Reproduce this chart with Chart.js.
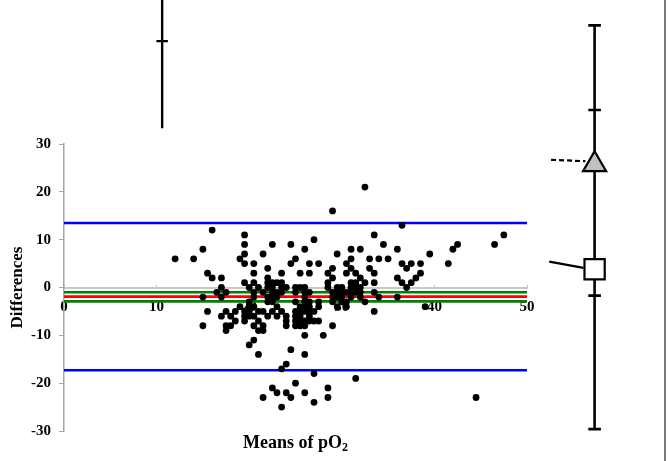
<!DOCTYPE html>
<html>
<head>
<meta charset="utf-8">
<script src="https://cdn.jsdelivr.net/npm/chart.js@4.4.1/dist/chart.umd.min.js"></script>
<style>
  html, body { margin: 0; padding: 0; background: #fff; }
  #wrap { width: 668px; height: 461px; position: relative; }
</style>
</head>
<body>
<div id="wrap"><canvas id="c" width="668" height="461"></canvas></div>
<script>
// Bland–Altman data: mean of the two pO2 readings (x) against their difference (y)
const meanPO2 = [
  12, 14, 15, 15, 15, 15.5, 15.5, 16, 16, 16.5,
  17, 17, 17, 17, 17.5, 17.5, 17.5, 17.5, 18, 18, 18.5, 18.5, 19, 19,
  19.5, 19.5, 19.5, 19.5, 19.5, 19.5, 19.5, 19.5,
  20, 20, 20, 20, 20, 20,
  20.5, 20.5, 20.5, 20.5, 20.5, 20.5, 20.5, 20.5, 20.5,
  21, 21, 21, 21, 21,
  21.5, 21.5, 21.5, 21.5, 21.5, 21.5,
  22, 22, 22, 22, 22, 22, 22,
  22.5, 22.5, 22.5, 22.5, 22.5, 22.5, 22.5, 22.5,
  23, 23, 23, 23, 23, 23,
  23.5, 23.5, 23.5, 23.5, 23.5, 23.5, 23.5,
  24, 24, 24, 24, 24, 24,
  24.5, 24.5, 24.5, 24.5,
  25, 25, 25, 25, 25, 25, 25, 25, 25,
  25.5, 25.5, 25.5, 25.5, 25.5, 25.5, 25.5,
  26, 26, 26, 26, 26, 26, 26, 26, 26, 26, 26, 26,
  26.5, 26.5, 26.5, 26.5, 26.5, 26.5, 26.5, 26.5,
  27, 27, 27, 27, 27,
  27.5, 27.5, 27.5, 27.5,
  28,
  28.5, 28.5, 28.5, 28.5, 28.5,
  29, 29, 29, 29, 29, 29, 29,
  29.5, 29.5, 29.5, 29.5, 29.5,
  30, 30, 30, 30,
  30.5, 30.5, 30.5, 30.5, 30.5,
  31, 31, 31, 31, 31, 31, 31,
  31.5, 31.5, 31.5, 31.5, 31.5,
  32, 32, 32, 32, 32,
  32.5, 32.5, 32.5,
  33, 33,
  33.5, 33.5, 33.5, 33.5, 33.5,
  34, 34, 34.5, 35,
  36, 36, 36, 36.5, 36.5, 36.5,
  37, 37, 37.5, 37.5, 38, 38.5, 38.5, 39, 39.5,
  41.5, 42, 42.5, 44.5, 46.5, 47.5
];
const diffPO2 = [
  6, 6, 8, -2, -8, 3, -5, 12, 2, -1,
  2, 0, -2, -6, -1, -5, -9, -8, -6, -8, -5, -7, 6, -4,
  11, 9, 7, 5, 1, -5, -6, -7,
  0, -3, -4, -5, -6, -12,
  5, 3, 1, -1, -2, -4, -6, -8, -11,
  0, -5, -7, -9, -14,
  7, -1, -5, -8, -9, -23,
  4, 2, 1, 0, -2, -3, -6,
  9, 1, 0, -1, -2, -3, -5, -21,
  1, -1, -2, -4, -6, -22,
  3, 1, 0, -1, -5, -17, -25,
  0, -6, -7, -8, -16, -22,
  9, 5, -13, -23,
  6, 0, -1, -3, -5, -6, -7, -8, -20,
  3, 0, -4, -5, -6, -7, -8,
  8, 0, -1, -2, -3, -4, -5, -7, -8, -10, -14, -22,
  5, 3, -1, -3, -4, -5, -6, -7,
  10, -5, -7, -18, -24,
  5, -3, -4, -7,
  -10,
  3, 1, 0, -21, -23,
  16, 4, 2, -1, -2, -3, -8,
  7, 0, -1, -2, -4,
  0, -1, -2, -3,
  5, 3, -1, -3, -4,
  8, 6, 4, 1, 0, -1, -2,
  3, 1, 0, -1, -19,
  8, 2, 0, -1, -2,
  21, 1, -3,
  6, 4,
  11, 3, 1, -1, -5,
  6, -2, 9, 6,
  8, 2, -2, 13, 5, 1,
  4, 0, 5, 1, 2, 5, 3, -4, 7,
  5, 8, 9, -23, 9, 11
];

// Mean difference, its confidence interval and the limits of agreement
const bias = -1.9;
const biasCI = [-1.0, -2.9];
const limitsOfAgreement = [13.5, -17.3];

// Axis ticks
const xTickValues = [0, 10, 20, 30, 40, 50];
const yTickValues = [-30, -20, -10, 0, 10, 20, 30];
const xRange = [0, 50];
const yRange = [-30, 30];

// Summary whisker to the right of the plot (same value scale)
const whiskerX = 57.3;
const whiskerEnds = [54.8, -29.6];
const whiskerTicks = [37.1, -1.7];
const triangleValue = 25.7;
const squareValue = 3.8;
const triangleLeader = { x: [52.6, 56.3], y: [26.7, 26.4] };
const squareLeader = { x: [52.4, 56.1], y: [5.4, 4.1] };

// Partial whisker above the plot
const upperWhiskerX = 10.6;
const upperWhiskerEnds = [61, 33.3];
const upperWhiskerTick = 51.5;

const SERIF = "'Liberation Serif', 'Times New Roman', serif";

const points = meanPO2.map((m, i) => ({ x: m, y: diffPO2[i] }));
const hLine = v => [{ x: xRange[0], y: v }, { x: xRange[1], y: v }];

// line pieces joined into one dataset, separated by gaps
function pieces(list) {
  const out = [];
  list.forEach((seg, i) => {
    if (i) out.push({ x: seg[0].x, y: null });
    seg.forEach(p => out.push(p));
  });
  return out;
}
function cap(x, y, half) {
  return [{ x: x - half, y }, { x: x + half, y }];
}

const capHalf = 0.68;
const rightWhisker = pieces([
  [{ x: whiskerX, y: whiskerEnds[0] }, { x: whiskerX, y: whiskerEnds[1] }],
  cap(whiskerX, whiskerEnds[0], capHalf),
  cap(whiskerX, whiskerEnds[1], capHalf),
  cap(whiskerX, whiskerTicks[0], capHalf),
  cap(whiskerX, whiskerTicks[1], capHalf)
]);
const topWhisker = pieces([
  [{ x: upperWhiskerX, y: upperWhiskerEnds[0] }, { x: upperWhiskerX, y: upperWhiskerEnds[1] }],
  cap(upperWhiskerX, upperWhiskerTick, 0.62)
]);

const lineDefaults = { showLine: true, pointRadius: 0, pointHoverRadius: 0, spanGaps: false, fill: false };

// Point elements outside the chart area are skipped by Chart.js,
// so markers flagged `outside` are drawn here at their scale positions.
const outsideMarkers = {
  id: 'outsideMarkers',
  afterDatasetsDraw(chart) {
    const ctx = chart.ctx;
    chart.data.datasets.forEach((ds, i) => {
      if (!ds.outside) return;
      chart.getDatasetMeta(i).data.forEach(el => {
        const o = el.options;
        ctx.save();
        ctx.fillStyle = o.backgroundColor;
        ctx.strokeStyle = o.borderColor;
        ctx.lineWidth = o.borderWidth;
        ctx.lineJoin = 'miter';
        if (Chart.helpers && Chart.helpers.drawPoint) {
          Chart.helpers.drawPoint(ctx, o, el.x, el.y);
        } else {
          ctx.beginPath();
          if (o.pointStyle === 'triangle') {
            const r = o.radius;
            ctx.moveTo(el.x, el.y - r);
            ctx.lineTo(el.x + r * Math.sin(2 * Math.PI / 3), el.y + r / 2);
            ctx.lineTo(el.x - r * Math.sin(2 * Math.PI / 3), el.y + r / 2);
            ctx.closePath();
          } else {
            const s = o.radius * Math.SQRT1_2;
            ctx.rect(el.x - s, el.y - s, 2 * s, 2 * s);
          }
          ctx.fill();
          ctx.stroke();
        }
        ctx.restore();
      });
    });
  }
};

// axis titles and the frame edge
const decorations = {
  id: 'decorations',
  afterDraw(chart) {
    const { ctx, chartArea: a } = chart;
    ctx.save();
    ctx.fillStyle = '#000';
    ctx.font = `bold 17px ${SERIF}`;
    // y title
    ctx.save();
    ctx.translate(a.left - 46, (a.top + a.bottom) / 2);
    ctx.rotate(-Math.PI / 2);
    ctx.textAlign = 'center';
    ctx.textBaseline = 'middle';
    ctx.fillText('Differences', 0, 0);
    ctx.restore();
    // x title with subscript
    const main = 'Means of pO';
    const sub = '2';
    ctx.font = `bold 18px ${SERIF}`;
    const wMain = ctx.measureText(main).width;
    ctx.font = `bold 12px ${SERIF}`;
    const wSub = ctx.measureText(sub).width;
    const x0 = (a.left + a.right) / 2 - (wMain + wSub) / 2;
    const base = a.bottom + 17;
    ctx.textAlign = 'left';
    ctx.textBaseline = 'alphabetic';
    ctx.font = `bold 18px ${SERIF}`;
    ctx.fillText(main, x0, base);
    ctx.font = `bold 12px ${SERIF}`;
    ctx.fillText(sub, x0 + wMain, base + 3);
    // frame edge on the right
    ctx.strokeStyle = '#7a7a7a';
    ctx.lineWidth = 2;
    ctx.beginPath();
    ctx.moveTo(chart.width - 3, 0);
    ctx.lineTo(chart.width - 3, chart.height);
    ctx.stroke();
    ctx.restore();
  }
};

new Chart(document.getElementById('c'), {
  type: 'scatter',
  data: {
    datasets: [
      { label: 'Differences', data: points, backgroundColor: '#000', borderWidth: 0,
        pointRadius: 3.4, pointHoverRadius: 3.4, order: 0 },
      { ...lineDefaults, label: 'Upper limit', data: hLine(limitsOfAgreement[0]), borderColor: '#0000ff', borderWidth: 2.6, order: 3 },
      { ...lineDefaults, label: 'Lower limit', data: hLine(limitsOfAgreement[1]), borderColor: '#0000ff', borderWidth: 2.6, order: 3 },
      { ...lineDefaults, label: 'CI upper', data: hLine(biasCI[0]), borderColor: '#008000', borderWidth: 2.6, order: 3 },
      { ...lineDefaults, label: 'CI lower', data: hLine(biasCI[1]), borderColor: '#008000', borderWidth: 2.6, order: 3 },
      { ...lineDefaults, label: 'Bias', data: hLine(bias), borderColor: '#ff0000', borderWidth: 2.6, order: 2 },
      { ...lineDefaults, label: 'Whisker', data: rightWhisker, borderColor: '#000', borderWidth: 2.6, clip: false, order: 2 },
      { ...lineDefaults, label: 'Upper whisker', data: topWhisker, borderColor: '#000', borderWidth: 2.4, clip: false, order: 2 },
      { ...lineDefaults, label: 'Triangle leader',
        data: triangleLeader.x.map((x, i) => ({ x, y: triangleLeader.y[i] })),
        borderColor: '#000', borderWidth: 2.2, borderDash: [5, 3], clip: false, order: 2 },
      { ...lineDefaults, label: 'Square leader',
        data: squareLeader.x.map((x, i) => ({ x, y: squareLeader.y[i] })),
        borderColor: '#000', borderWidth: 2.2, clip: false, order: 2 },
      { label: 'Triangle', outside: true, data: [{ x: whiskerX, y: triangleValue }], pointStyle: 'triangle',
        pointRadius: 13.3, pointHoverRadius: 13.3, backgroundColor: '#c0c0c0', borderColor: '#000',
        borderWidth: 2.2, clip: false, order: 0 },
      { label: 'Square', outside: true, data: [{ x: whiskerX, y: squareValue }], pointStyle: 'rect',
        pointRadius: 14.3, pointHoverRadius: 14.3, backgroundColor: '#fff', borderColor: '#000',
        borderWidth: 2.2, clip: false, order: 0 }
    ]
  },
  options: {
    responsive: false,
    animation: false,
    events: [],
    layout: { padding: { left: 0, top: 144, right: 141, bottom: 30 } },
    plugins: { legend: { display: false }, tooltip: { enabled: false }, title: { display: false } },
    scales: {
      x: {
        type: 'linear',
        position: { y: 0 },
        min: xRange[0], max: xRange[1],
        afterBuildTicks: s => { s.ticks = xTickValues.map(v => ({ value: v })); },
        grid: { drawOnChartArea: false, drawTicks: true, tickLength: -4, color: '#c4c4c4', lineWidth: 1 },
        border: { display: true, color: '#c8c8c8', width: 2 },
        ticks: { color: '#000', padding: 15, maxRotation: 0, autoSkip: false,
          font: { family: SERIF, size: 15, weight: 'bold' } }
      },
      y: {
        type: 'linear',
        position: 'left',
        min: yRange[0], max: yRange[1],
        afterBuildTicks: s => { s.ticks = yTickValues.map(v => ({ value: v })); },
        afterFit: s => { s.width = 64; },
        grid: { drawOnChartArea: false, drawTicks: true, tickLength: 5, color: '#a6a6a6' },
        border: { display: true, color: '#a6a6a6', width: 1.5 },
        ticks: { color: '#000', padding: 8, autoSkip: false,
          font: { family: SERIF, size: 15, weight: 'bold' } }
      }
    }
  },
  plugins: [outsideMarkers, decorations]
});
</script>
</body>
</html>
